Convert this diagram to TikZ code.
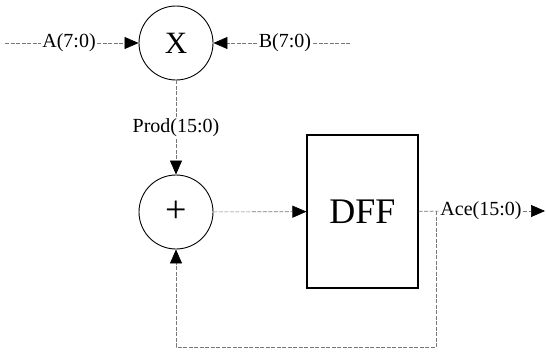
\documentclass[tikz,border=0pt]{standalone}
\usepackage{fontspec}
\setmainfont{Liberation Serif}
\usetikzlibrary{arrows.meta,positioning}
\definecolor{wiregray}{RGB}{120,120,120}

\begin{document}
\begin{tikzpicture}[x=1pt, y=-1pt,
  opn/.style={circle, draw, line width=0.9pt, minimum size=74pt, inner sep=0pt, font=\fontsize{31}{33}\selectfont},
  regbox/.style={rectangle, draw, line width=1.1pt, minimum width=111pt, minimum height=153pt, font=\fontsize{36}{38}\selectfont},
  sig/.style={font=\fontsize{20}{22}\selectfont, inner sep=1.5pt},
  wire/.style={wiregray, line width=0.6pt, dash pattern=on 4pt off 1.5pt},
  arr/.style={wire, -{Triangle[length=14pt, width=12pt, color=black]}}
]
  \useasboundingbox (0,0) rectangle (546,351);
  % ---------------- nodes ----------------
  \node[opn] (mul) at (176,43) {X};
  \node[opn, font=\fontsize{38}{40}\selectfont] (add) at (176,212) {+};
  \node[regbox] (dff) at (362.5,211.5) {DFF};
  \node[sig] (sa) at (69,43) {A(7:0)};
  \node[sig] (sb) at (285,43) {B(7:0)};
  \node[sig] (sprod) at (176,128) {Prod(15:0)};
  \node[sig] (sacc) at (481,211) {Ace(15:0)};
  % free ends and bends of the wires
  \coordinate (ina) at (5,43);
  \coordinate (inb) at (350,43);
  \coordinate (outq) at (545,211);
  \coordinate (tap) at (436,211);
  \coordinate (fbr) at (436,347);
  \coordinate (fbl) at (176,347);
  % ---------------- wires ----------------
  \draw[wire] (ina) -- (sa);
  \draw[arr] (sa) -- (mul);
  \draw[wire] (inb) -- (sb);
  \draw[arr] (sb) -- (mul);
  \draw[wire] (mul) -- (sprod);
  \draw[arr] (sprod) -- (add);
  \draw[arr] (add) -- (dff);
  \draw[wire] (dff) -- (sacc);
  \draw[arr] (sacc) -- (outq);
  \draw[arr] (tap) -- (fbr) -- (fbl) -- (add);
\end{tikzpicture}
\end{document}
